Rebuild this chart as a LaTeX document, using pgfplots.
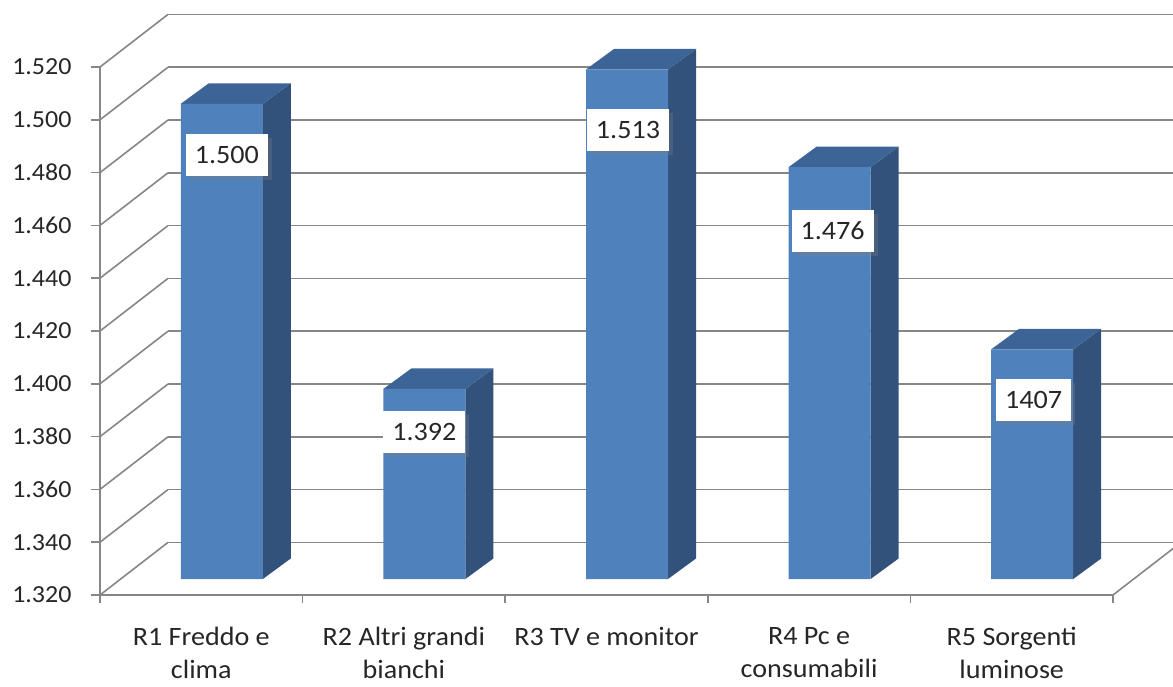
\documentclass[border=0pt]{standalone}
\usepackage{pgfplots}
\pgfplotsset{compat=1.18}
\usepackage{pgfplotstable}
\usepackage{fontspec}
\setmainfont{Carlito}[FakeStretch=1.06]
\usetikzlibrary{shadows}

\definecolor{gridc}{RGB}{134,134,134}
\definecolor{barfront}{RGB}{79,129,189}
\definecolor{barside}{RGB}{50,82,124}
\definecolor{bartop}{RGB}{60,100,150}

% values per category; lab is the printed label, lx/ly place it on the bar
\pgfplotstableread{
x   v    lab   lx  ly
0.5 1500 1.500 5   51.5
1.5 1392 1.392 0   43
2.5 1513 1.513 1   61
3.5 1476 1.476 3   63.5
4.5 1407 1407  1.5 51
}\bardata

% corners of a unit square, used to build the side and top faces
\pgfplotstableread{
a b
0 0
1 0
1 1
0 1
}\corners

\def\ux{202.6}   % pt per category
\def\uy{2.64}    % pt per unit of value
\def\wallx{68}   % depth of the floor, x (pt)
\def\wally{52.6} % depth of the floor, y (pt)
\def\hw{0.2024}  % half bar width (categories)
\def\dxb{0.1382} % bar depth in x (categories)
\def\dyb{7.77}   % bar depth in y (value units)

\begin{document}
\begin{tikzpicture}
\pgfplotsset{common/.style={x=\ux pt, y=\uy pt, xmin=0, xmax=5, clip=false, scale only axis}}

% back wall grid
\begin{axis}[common, at={(\wallx pt,\wally pt)}, ymin=1320, ymax=1520,
  axis line style={draw=none}, xtick=\empty, ytick={1320,1340,...,1520},
  yticklabel style={opacity=0}, major tick length=0pt, ymajorgrids,
  grid style={draw=gridc, line width=1.6pt},
  major grid style={draw=gridc, line width=1.6pt}]
\end{axis}

% front axes, left wall and floor edges
\begin{axis}[common, at={(0pt,0pt)}, ymin=1320, ymax=1520,
  axis x line=bottom, axis y line=left,
  axis line style={-, draw=gridc, line width=1.6pt},
  tick align=outside,
  ytick={1320,1340,...,1520},
  major tick length=9pt, minor tick length=8pt,
  tick style={draw=gridc, line width=1.6pt},
  xtick={0.5,1.5,...,4.5},
  minor xtick={0,1,...,5},
  major x tick style={draw=none},
  xticklabels={{R1 Freddo e\\clima},{R2 Altri grandi\\bianchi},{R3 TV e monitor},{R4 Pc e\\consumabili},{R5 Sorgenti\\luminose}},
  xticklabel style={align=center, font=\fontsize{26.5}{33}\selectfont, yshift=-20pt, text=black!85},
  yticklabel style={font=\fontsize{24.5}{28}\selectfont, xshift=-16pt, text=black!85},
  /pgf/number format/1000 sep={.},
  /pgf/number format/assume math mode=true,
  scaled y ticks=false]
\pgfplotsinvokeforeach{1320,1340,...,1520}{
  \draw[gridc, line width=1.6pt] (axis cs:0,#1) -- ++(\wallx pt,\wally pt);
}
\draw[gridc, line width=1.6pt] (axis cs:5,1320) -- ++(\wallx pt,\wally pt);
\end{axis}

% bars
\begin{axis}[common, at={(20.5pt,16pt)}, ymin=0, ymax=200, hide axis]
\pgfplotsinvokeforeach{0,...,4}{
  \pgfplotstablegetelem{#1}{v}\of\bardata
  \pgfmathsetmacro\h{\pgfplotsretval-1320}
  \pgfplotstablegetelem{#1}{x}\of\bardata
  \let\xc=\pgfplotsretval
  \addplot[fill=barside, draw=none]
    table[x expr={\xc+\hw+\thisrow{a}*\dxb}, y expr={\thisrow{b}*\h+\thisrow{a}*\dyb}] {\corners};
  \addplot[fill=bartop, draw=none]
    table[x expr={\xc-\hw+2*\thisrow{b}*\hw+\thisrow{a}*\dxb}, y expr={\h+\thisrow{a}*\dyb}] {\corners};
}
\addplot[ybar, bar width=82pt, fill=barfront, draw=none,
  point meta=explicit symbolic,
  nodes near coords,
  nodes near coords align={anchor=center},
  visualization depends on={\thisrow{lx}\as\lx},
  visualization depends on={\thisrow{ly}\as\ly},
  every node near coord/.append style={anchor=center, xshift=\lx pt, yshift=-\ly pt,
    fill=white, text=black!85, font=\fontsize{26.5}{30}\selectfont,
    inner xsep=9pt, minimum height=42pt,
    drop shadow={shadow xshift=4pt, shadow yshift=-4pt, opacity=0.3}}]
  table[x=x, y expr=\thisrow{v}-1320, meta=lab] {\bardata};
\end{axis}

\pgfresetboundingbox
\path[use as bounding box] (-100pt,-91pt) rectangle (1073pt,595pt);
\end{tikzpicture}
\end{document}
